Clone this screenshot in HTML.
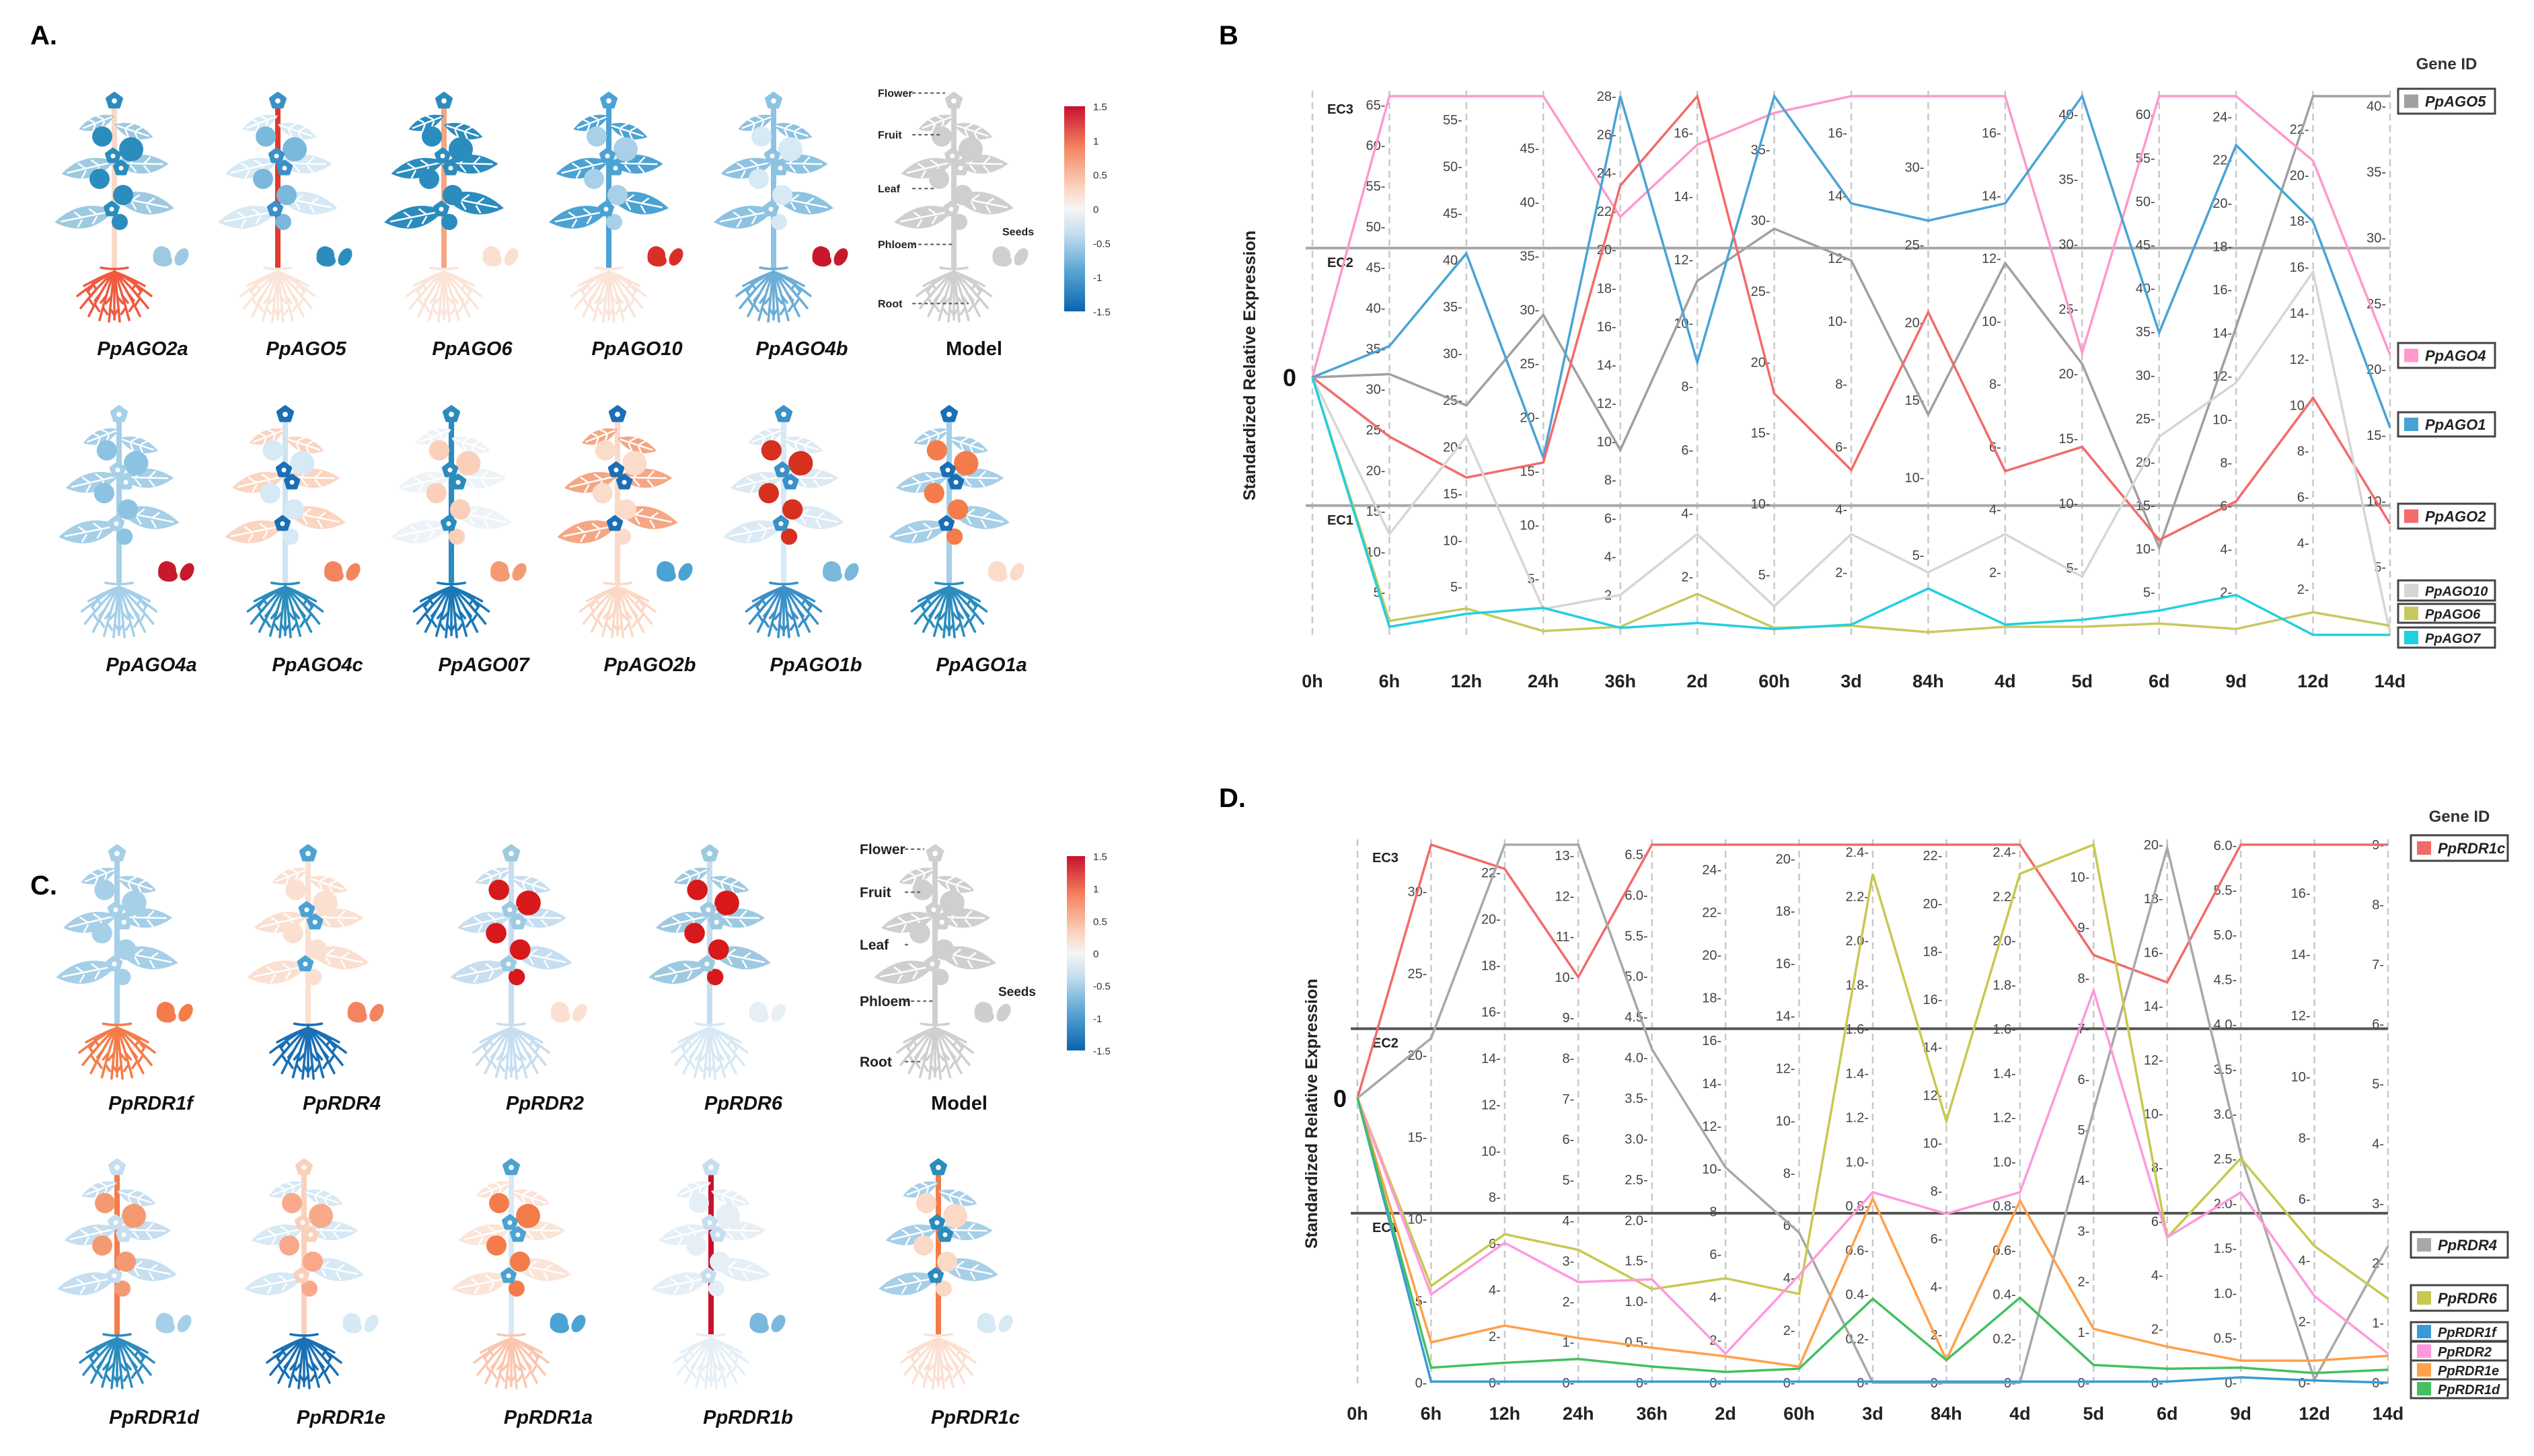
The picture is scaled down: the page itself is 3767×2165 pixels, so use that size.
<!DOCTYPE html>
<html><head><meta charset="utf-8"><style>
html,body{margin:0;padding:0;background:#fff;}
svg{display:block;}
text{font-family:"Liberation Sans",sans-serif;}
</style></head><body>
<svg id="fig" xmlns="http://www.w3.org/2000/svg" width="3767" height="2165" viewBox="0 0 3767 2165">
<rect width="3767" height="2165" fill="#fff"/>
<defs>
<linearGradient id="cbar" x1="0" y1="0" x2="0" y2="1">
<stop offset="0" stop-color="#c8102e"/><stop offset="0.2" stop-color="#f4845f"/><stop offset="0.4" stop-color="#fbd5c2"/><stop offset="0.5" stop-color="#f5f5f5"/><stop offset="0.62" stop-color="#c6def0"/><stop offset="0.8" stop-color="#5aa6d4"/><stop offset="1" stop-color="#0a64b0"/>
</linearGradient>
</defs>
<text x="45" y="66" font-size="40" font-weight="bold">A.</text>
<text x="1812" y="66" font-size="40" font-weight="bold">B</text>
<text x="45" y="1330" font-size="40" font-weight="bold">C.</text>
<text x="1812" y="1200" font-size="40" font-weight="bold">D.</text>
<g id="plantsA"></g>
<g id="plantsC"></g>
<g id="chartB"></g>
<g id="chartD"></g>
</svg>
<script>
// ---------- Chart B data ----------
const catsB = ["0h","6h","12h","24h","36h","2d","60h","3d","84h","4d","5d","6d","9d","12d","14d"];
const seriesNamesB = ["PpAGO5","PpAGO4","PpAGO1","PpAGO2","PpAGO10","PpAGO6","PpAGO7"];
const seriesColorsB = ["#a0a0a0","#ff99cc","#4aa3d6","#f36a6a","#d6d6d6","#c8c860","#22cfe0"];
// values on 0-100 standardized scale (0 = bottom, 100 = top)
const AGO5 = [47.8,48.4,42.6,59.4,34.3,65.7,75.4,69.5,40.9,69.0,50.3,16.2,57.1,100,100];
const AGO4 = [47.8,100,100,100,77.6,91.0,96.9,100,100,100,52.4,100,100,88.0,52.0];
const AGO1 = [47.8,53.6,70.8,32.9,100,50.6,100,80.1,76.9,80.1,100,56.1,90.9,76.7,38.5];
const AGO2 = [47.8,36.8,29.2,32.0,83.4,100,44.8,30.6,59.9,30.4,34.9,17.6,24.8,44.0,20.6];
const AGO10 = [47.8,18.7,36.8,4.8,7.4,18.7,5.3,18.7,11.6,18.7,10.8,36.8,46.8,67.4,0.3];
const AGO6 = [47.8,2.6,4.9,0.7,1.5,7.6,1.3,1.7,0.5,1.5,1.5,2.1,1.1,4.2,1.7];
const AGO7 = [47.8,1.5,3.9,5.0,1.3,2.2,1.1,1.9,8.6,1.9,2.8,4.5,7.4,0,0];
const valuesB = [AGO5,AGO4,AGO1,AGO2,AGO10,AGO6,AGO7];
const ecLevelsB = [71.8,24.0];
const tickLabelsB = [[],
 ["65","60","55","50","45","40","35","30","25","20","15","10","5"],
 ["55","50","45","40","35","30","25","20","15","10","5"],
 ["45","40","35","30","25","20","15","10","5"],
 ["28","26","24","22","20","18","16","14","12","10","8","6","4","2"],
 ["16","14","12","10","8","6","4","2"],
 ["35","30","25","20","15","10","5"],
 ["16","14","12","10","8","6","4","2"],
 ["30","25","20","15","10","5"],
 ["16","14","12","10","8","6","4","2"],
 ["40","35","30","25","20","15","10","5"],
 ["60","55","50","45","40","35","30","25","20","15","10","5"],
 ["24","22","20","18","16","14","12","10","8","6","4","2"],
 ["22","20","18","16","14","12","10","8","6","4","2"],
 ["40","35","30","25","20","15","10","5"]];
const tickTopB = [0,98.4,95.6,90.3,100,93.2,90.1,93.2,86.8,93.2,96.6,96.6,96.2,93.9,98.2];
const tickBotB = [0,7.9,8.9,10.4,7.4,10.8,11.2,11.6,14.8,11.6,12.4,7.9,7.9,8.5,12.6];
// ---------- Chart D data ----------
const catsD = ["0h","6h","12h","24h","36h","2d","60h","3d","84h","4d","5d","6d","9d","12d","14d"];
const seriesNamesD = ["PpRDR1c","PpRDR4","PpRDR6","PpRDR1f","PpRDR2","PpRDR1e","PpRDR1d"];
const seriesColorsD = ["#f36a6a","#a8a8a8","#c8c850","#3a9ad6","#ff99dd","#ffa04a","#44c060"];
const RDR1c = [52.9,100,95.5,75.4,100,100,100,100,100,100,79.5,74.4,100,100,100];
const RDR4 = [52.9,64.0,100,100,62.0,40.0,27.9,0,0,0,50.6,99.4,42.3,0.6,25.4];
const RDR6 = [52.9,18.0,27.6,24.7,17.4,19.4,16.5,94.6,48.6,94.6,100,27.0,41.7,25.4,15.6];
const RDR1f = [52.9,0.2,0.2,0.2,0.2,0.2,0.2,0.2,0.2,0.2,0.2,0.2,1.0,0.4,0];
const RDR2 = [52.9,16.4,26.0,18.7,19.2,5.4,20.0,35.4,31.4,35.4,72.9,27.0,35.4,16.1,5.4];
const RDR1e = [52.9,7.5,10.6,8.3,6.5,4.9,3.0,34.2,4.2,33.8,10.0,6.7,4.1,4.1,5.0];
const RDR1d = [52.9,2.8,3.7,4.4,3.0,2.0,2.6,15.6,4.2,15.8,3.3,2.6,2.8,1.8,2.4];
const valuesD = [RDR1c,RDR4,RDR6,RDR1f,RDR2,RDR1e,RDR1d];
const ecLevelsD = [65.8,31.5];
const tickLabelsD = [[],
 ["30","25","20","15","10","5","0"],
 ["22","20","18","16","14","12","10","8","6","4","2","0"],
 ["13","12","11","10","9","8","7","6","5","4","3","2","1","0"],
 ["6.5","6.0","5.5","5.0","4.5","4.0","3.5","3.0","2.5","2.0","1.5","1.0","0.5","0"],
 ["24","22","20","18","16","14","12","10","8","6","4","2","0"],
 ["20","18","16","14","12","10","8","6","4","2","0"],
 ["2.4","2.2","2.0","1.8","1.6","1.4","1.2","1.0","0.8","0.6","0.4","0.2","0"],
 ["22","20","18","16","14","12","10","8","6","4","2","0"],
 ["2.4","2.2","2.0","1.8","1.6","1.4","1.2","1.0","0.8","0.6","0.4","0.2","0"],
 ["10","9","8","7","6","5","4","3","2","1","0"],
 ["20","18","16","14","12","10","8","6","4","2","0"],
 ["6.0","5.5","5.0","4.5","4.0","3.5","3.0","2.5","2.0","1.5","1.0","0.5","0"],
 ["16","14","12","10","8","6","4","2","0"],
 ["9","8","7","6","5","4","3","2","1","0"]];
const tickTopD = [0,91.3,94.8,98.0,98.2,95.4,97.4,98.6,98.0,98.6,94.0,100,99.9,91.0,100];

const NS="http://www.w3.org/2000/svg";
function mk(tag,attrs,parent){const e=document.createElementNS(NS,tag);for(const k in attrs)e.setAttribute(k,attrs[k]);if(parent)parent.appendChild(e);return e;}

function drawChart(cfg){
  const g=document.getElementById(cfg.id);
  const n=cfg.cats.length;
  const xs=i=>cfg.x0+i*(cfg.x1-cfg.x0)/(n-1);
  const ys=v=>cfg.yBot-(v/100)*(cfg.yBot-cfg.yTop);
  for(let i=0;i<n;i++){
    const l=mk('line',{x1:xs(i),x2:xs(i),y1:cfg.yTop-8,y2:cfg.yBot+4,stroke:'#c8c8c8','stroke-width':2.5,'stroke-dasharray':'10,7'},g);
    
    
  }
  cfg.ec.forEach((v,k)=>{
    const l=mk('line',{x1:cfg.x0-10,x2:cfg.x1,y1:ys(v),y2:ys(v),stroke:cfg.ecColor,'stroke-width':4},g);
    
    
  });
  const ecLab=[["EC3",100],["EC2",cfg.ec[0]],["EC1",cfg.ec[1]]];
  ecLab.forEach(([t,v])=>{
    const e=mk('text',{x:cfg.x0+22,y:ys(v)+(t==="EC3"?26:28),'font-size':20,'font-weight':'bold',fill:'#222'},g);
    e.textContent=t;
    
    
  });
  for(let i=1;i<n;i++){
    const labs=cfg.ticks[i];const m=labs.length;
    const top=cfg.tickTop[i];const bot=cfg.tickBot?cfg.tickBot[i]:0;
    labs.forEach((t,j)=>{
      const v=top-(m>1?j*(top-bot)/(m-1):0);
      const e=mk('text',{x:xs(i)-6,y:ys(v)+7,'font-size':20,fill:'#444','text-anchor':'end'},g);
      e.textContent=t+'-';
      
      
    });
  }
  cfg.values.forEach((vals,s)=>{
    const pts=vals.map((v,i)=>xs(i)+','+ys(v)).join(' ');
    const p=mk('polyline',{points:pts,fill:'none',stroke:cfg.colors[s],'stroke-width':3.5,'stroke-linejoin':'miter'},g);
    
    
  });
  cfg.cats.forEach((c,i)=>{
    const e=mk('text',{x:xs(i),y:cfg.xLabY,'font-size':27,'font-weight':'bold','text-anchor':'middle',fill:'#222'},g);
    e.textContent=c;
    
    
  });
  const z=mk('text',{x:cfg.zeroX,y:ys(cfg.values[0][0])+13,'font-size':36,'font-weight':'bold','text-anchor':'middle',fill:'#111'},g);
  z.textContent='0';
  
  
  const yc=(cfg.yTop+cfg.yBot)/2;
  const t=mk('text',{x:cfg.titleX,y:yc,'font-size':25,'font-weight':'bold','text-anchor':'middle',fill:'#222',transform:'rotate(-90 '+cfg.titleX+' '+yc+')'},g);
  t.textContent='Standardized Relative Expression';
  
  
  const gt=mk('text',{x:cfg.legX+72,y:cfg.geneIdY,'font-size':24,'font-weight':'bold','text-anchor':'middle',fill:'#333'},g);
  gt.textContent='Gene ID';
  
  
  cfg.names.forEach((nm,s)=>{
    const [y,h]=cfg.legBoxes[s];
    const lg=mk('g',{},g);
    
    
    mk('rect',{x:cfg.legX,y:y,width:144,height:h,fill:'#fff',stroke:'#444','stroke-width':3},lg);
    mk('rect',{x:cfg.legX+9,y:y+h/2-10,width:21,height:20,fill:cfg.colors[s]},lg);
    const e=mk('text',{x:cfg.legX+40,y:y+h/2+8,'font-size':h>33?22:20,'font-style':'italic','font-weight':'bold',fill:'#222'},lg);
    e.textContent=nm;
  });
}

drawChart({id:'chartB',cats:catsB,values:valuesB,colors:seriesColorsB,names:seriesNamesB,
  x0:1951,x1:3553,yTop:143,yBot:944,ec:ecLevelsB,ecColor:'#a8a8a8',ticks:tickLabelsB,tickTop:tickTopB,tickBot:tickBotB,
  xLabY:1022,zeroX:1917,titleX:1866,legX:3565,geneIdY:103,
  legBoxes:[[132,37],[510,37],[613,36],[749,37],[863,30],[898,28],[933,30]]});
drawChart({id:'chartD',cats:catsD,values:valuesD,colors:seriesColorsD,names:seriesNamesD,
  x0:2018,x1:3550,yTop:1256,yBot:2056,ec:ecLevelsD,ecColor:'#555',ticks:tickLabelsD,tickTop:tickTopD,
  xLabY:2111,zeroX:1992,titleX:1958,legX:3584,geneIdY:1222,
  legBoxes:[[1242,38],[1832,38],[1911,38],[1966,28],[1995,28],[2023,28],[2051,28]]});

// ---------- Plants ----------
function plant(parent,cx,top,c,s,name){
  const g=mk('g',{transform:'translate('+cx+','+top+') scale('+s+')'},parent);
  
  
  const rg=mk('g',{stroke:c.root,'stroke-width':3.5,fill:'none','stroke-linecap':'round'},g);
  mk('path',{d:'M-20,258 Q0,262 20,258 M0,255 L0,335'},rg);
  const roots=[[-55,300],[-50,318],[-38,330],[-22,336],[-8,338],[8,338],[22,336],[38,330],[50,318],[55,300],[-45,285],[45,285]];
  roots.forEach(([x,y])=>{
    mk('path',{d:'M0,264 Q'+(x*0.4)+','+(264+(y-264)*0.3)+' '+x+','+y},rg);
    mk('path',{d:'M'+(x*0.55)+','+(264+(y-264)*0.5)+' l'+(x>0?8:-8)+',10 M'+(x*0.75)+','+(264+(y-264)*0.75)+' l'+(x>0?-6:6)+',9'},rg);
  });
  mk('line',{x1:0,y1:15,x2:0,y2:258,stroke:c.stem,'stroke-width':8},g);
  const leaves=[[-1,32,56,-28],[1,45,60,-25],[-1,100,80,-20],[1,102,80,-8],[-1,173,90,-18],[1,152,90,-18]];
  leaves.forEach(([d,y,len,ang])=>{
    const lg=mk('g',{transform:'translate(0,'+y+') scale('+d+',1) rotate('+(-ang)+')'},g);
    mk('path',{d:'M0,0 Q'+(len*0.45)+',-'+(len*0.38)+' '+len+',-'+(len*0.12)+' Q'+(len*0.55)+','+(len*0.32)+' 0,0 Z',fill:c.leaf},lg);
    mk('path',{d:'M4,0 L'+(len*0.9)+',-'+(len*0.1)+' M'+(len*0.3)+',-3 l8,-11 M'+(len*0.55)+',-5 l8,-11 M'+(len*0.3)+',0 l10,9 M'+(len*0.55)+',-2 l10,9',stroke:'#fff','stroke-width':2.5,fill:'none'},lg);
  });
  [[-18,63,15],[25,82,18],[-22,126,15],[13,150,15],[8,190,12]].forEach(([x,y,r])=>{
    mk('circle',{cx:x,cy:y,r:r,fill:c.fruit},g);
  });
  [[0,10,11],[-2,92,10],[10,110,10],[-4,171,10]].forEach(([x,y,r])=>{
    let d='';for(let k=0;k<5;k++){const a=-Math.PI/2+k*2*Math.PI/5;d+=(k?'L':'M')+(x+r*Math.cos(a))+','+(y+r*Math.sin(a));}
    mk('path',{d:d+'Z',fill:c.flower,stroke:c.flower,'stroke-width':5,'stroke-linejoin':'round'},g);
    mk('circle',{cx:x,cy:y,r:r*0.35,fill:'#fff'},g);
  });
  mk('path',{d:'M58,248 Q55,228 70,226 Q85,228 84,242 Q90,252 78,256 Q64,258 58,248 Z',fill:c.seed},g);
  mk('ellipse',{cx:100,cy:242,rx:9,ry:14,transform:'rotate(30 100 242)',fill:c.seed},g);
}
function label(parent,x,y,t,italic,name){
  const e=mk('text',{x:x,y:y,'font-size':29,'font-weight':'bold','font-style':italic?'italic':'normal','text-anchor':'middle',fill:'#111'},parent);
  e.textContent=t;
  
  
}
function C(stem,leaf,fruit,flower,root,seed){return {stem,leaf,fruit,flower,root,seed};}
const gray=C('#cfcfcf','#cfcfcf','#cfcfcf','#cfcfcf','#cfcfcf','#cfcfcf');
const pA=document.getElementById('plantsA');
const rowA1=[["PpAGO2a",170,C('#f9d9c8','#9ecae1','#2b8cbe','#2b8cbe','#ef5a40','#9ecae1')],
 ["PpAGO5",413,C('#e03a2e','#d6e9f5','#7ab8dc','#3a90c8','#fbe4d8','#2b8cbe')],
 ["PpAGO6",660,C('#f4a582','#2b8cbe','#2b8cbe','#2b8cbe','#fbe4d8','#fbe0d2')],
 ["PpAGO10",905,C('#4ba3d3','#4ba3d3','#a8d0e8','#4ba3d3','#fbe4d8','#d73027')],
 ["PpAGO4b",1150,C('#8cc3e2','#8cc3e2','#d6e9f5','#8cc3e2','#6baed6','#c7192b')]];
rowA1.forEach(([n,x,c])=>{plant(pA,x,140,c,1,n);label(pA,x+42,528,n,true,'gene-label-'+n.toLowerCase());});
plant(pA,1418,140,gray,1,'model-a');label(pA,1448,528,'Model',false,'model-label-a');
const rowA2=[["PpAGO4a",177,C('#a6cfe8','#a6cfe8','#8cc3e2','#a6cfe8','#a6cfe8','#c7192b')],
 ["PpAGO4c",424,C('#cfe3f1','#fbd5c2','#d6e9f5','#1a6fb5','#2b8cbe','#f4845f')],
 ["PpAGO07",671,C('#2b8cbe','#eef3f7','#fbd0bb','#2b8cbe','#1a78b8','#f49a72')],
 ["PpAGO2b",918,C('#fbd9c6','#f6a684','#fbdccb','#1a6fb5','#fbd9c6','#4ba3d3')],
 ["PpAGO1b",1165,C('#d6e9f5','#dbeaf4','#d7301f','#3a90c8','#3a90c8','#7ab8dc')],
 ["PpAGO1a",1411,C('#a6cfe8','#a6cfe8','#f47c4a','#1a6fb5','#2b8cbe','#fbdccb')]];
rowA2.forEach(([n,x,c])=>{plant(pA,x,606,c,1.01,n);label(pA,x+48,998,n,true,'gene-label-'+n.toLowerCase());});
const pC=document.getElementById('plantsC');
const rowC1=[["PpRDR1f",174,C('#a6cfe8','#a6cfe8','#a6cfe8','#a6cfe8','#f47c4a','#f47c4a')],
 ["PpRDR4",458,C('#fbe0d2','#fbe0d2','#fbe0d2','#4ba3d3','#1a6fb5','#f4845f')],
 ["PpRDR2",760,C('#c6def0','#c6def0','#d7191c','#9ecae1','#c6def0','#fbe0d2')],
 ["PpRDR6",1055,C('#c6def0','#9ecae1','#d7191c','#9ecae1','#d6e9f5','#e6eff6')]];
rowC1.forEach(([n,x,c])=>{plant(pC,x,1259,c,1.02,n);label(pC,x+50,1650,n,true,'gene-label-'+n.toLowerCase());});
plant(pC,1390,1259,gray,1.02,'model-c');label(pC,1426,1650,'Model',false,'model-label-c');
const rowC2=[["PpRDR1d",174,C('#f47c4a','#c6def0','#f49a72','#c6def0','#2b8cbe','#a6cfe8')],
 ["PpRDR1e",452,C('#fbd0bb','#d6e9f5','#f9a98a','#fbd0bb','#1a6fb5','#d6e9f5')],
 ["PpRDR1a",760,C('#d6e9f5','#fbe4d8','#f47c4a','#4ba3d3','#fbc6ad','#4ba3d3')],
 ["PpRDR1b",1057,C('#c8102e','#e6eff6','#e6eff6','#c6def0','#e6eff6','#7ab8dc')],
 ["PpRDR1c",1395,C('#f47c4a','#a6cfe8','#fbd9c6','#2b8cbe','#fbe0d2','#d6e9f5')]];
rowC2.forEach(([n,x,c])=>{plant(pC,x,1726,c,1.0,n);label(pC,x+55,2117,n,true,'gene-label-'+n.toLowerCase());});

function modelLabels(parent,x,items,fs,sid){
  items.forEach(([t,y,lx])=>{
    const e=mk('text',{x:x,y:y,'font-size':fs,'font-weight':'bold',fill:'#222'},parent);
    e.textContent=t;
    
    
    if(lx) mk('line',{x1:x+fs*3.2,x2:lx,y1:y-fs*0.35,y2:y-fs*0.35,stroke:'#555','stroke-width':2,'stroke-dasharray':'5,4'},parent);
  });
}
modelLabels(pA,1305,[["Flower",144,1405],["Fruit",206,1398],["Leaf",286,1390],["Phloem",369,1416],["Root",457,1440]],16,'-a');
modelLabels(pA,1490,[["Seeds",350,0]],16,'-a');
modelLabels(pC,1278,[["Flower",1270,1374],["Fruit",1334,1368],["Leaf",1412,1350],["Phloem",1496,1388],["Root",1586,1370]],21,'-c');
modelLabels(pC,1484,[["Seeds",1481,0]],19,'-c');
function colorbar(parent,x,y,w,h,sid){
  const r=mk('rect',{x:x,y:y,width:w,height:h,fill:'url(#cbar)'},parent);
  
  
  ["1.5","1","0.5","0","-0.5","-1","-1.5"].forEach((t,i)=>{
    const e=mk('text',{x:x+w+12,y:y+i*h/6+6,'font-size':15,fill:'#333'},parent);
    e.textContent=t;
    
    
  });
}
colorbar(pA,1582,158,31,305,'-a');
colorbar(pC,1586,1273,27,289,'-c');
</script>
</body></html>
